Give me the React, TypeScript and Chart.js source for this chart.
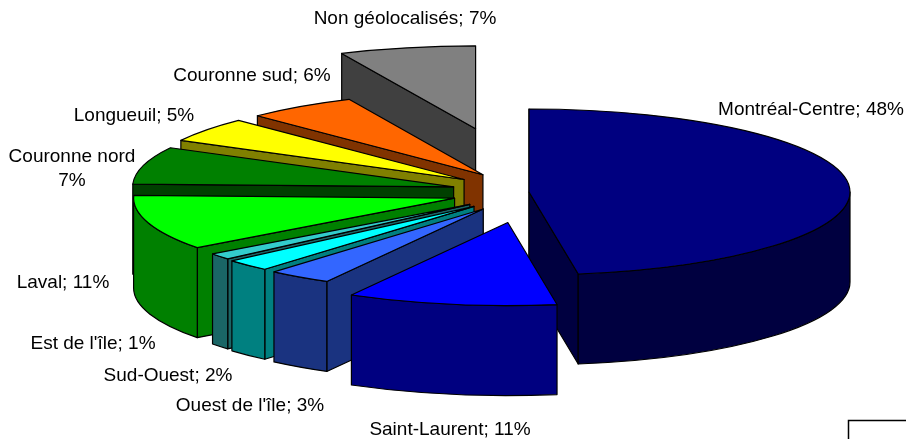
import React, { useEffect, useRef } from "react";
import { Chart, registerables } from "chart.js";

Chart.register(...registerables);

const categories = ["Montréal-Centre", "Saint-Laurent", "Ouest de l'île", "Sud-Ouest", "Est de l'île", "Laval", "Couronne nord", "Longueuil", "Couronne sud", "Non géolocalisés"];
const shares = [47.55, 10.55, 3.2, 2.3, 1.2, 10.7, 7.3, 4.8, 5.55, 6.85];
const topColors = ["#000080", "#0000FF", "#3366FF", "#00FFFF", "#33CCCC", "#00FF00", "#008000", "#FFFF00", "#FF6600", "#808080"];
const sideColors = ["#000040", "#000080", "#1A3380", "#008080", "#1A6666", "#008000", "#004000", "#808000", "#803300", "#404040"];
const sliceOffsets = [0, 120, 80, 78, 76, 78, 78, 81, 81, 250];
const paintOrder = [9, 8, 7, 6, 5, 4, 3, 2, 0, 1];
// label anchor: centre x, centre y of the first line
const labelAnchors = [[811, 110], [450, 430], [250, 406], [168, 376], [93, 344], [63, 283], [72, 157], [134, 116], [252, 76], [405, 19]];

const SQUASH = 83 / 321;
const DEPTH = 90;
const RADIUS = 321;

function labelLines(i: number): string[] {
  const pct = Math.round(shares[i]) + "%";
  if (categories[i] === "Couronne nord") return [categories[i], pct];
  return [categories[i] + "; " + pct];
}

const pie3d = {
  id: "pie3d",
  beforeDatasetDraw() {
    return false;
  },
  afterDatasetsDraw(chart: any) {
    const ctx: CanvasRenderingContext2D = chart.ctx;
    const arcs = chart.getDatasetMeta(0).data;
    ctx.save();
    ctx.lineWidth = 1.2;
    ctx.lineJoin = "round";
    ctx.strokeStyle = "#000";
    const paint = (fill: string) => {
      ctx.closePath();
      ctx.fillStyle = fill;
      ctx.fill();
      ctx.stroke();
    };
    for (const i of paintOrder) {
      const arc = arcs[i];
      const a0 = arc.startAngle;
      const a1 = arc.endAngle;
      const mid = (a0 + a1) / 2;
      const off = arc.options.offset;
      const rx = arc.outerRadius;
      const ry = rx * SQUASH;
      const cx = arc.x + Math.cos(mid) * off;
      const cy = arc.y + Math.sin(mid) * off * SQUASH;
      const radial = (a: number) => {
        const x = cx + Math.cos(a) * rx;
        const y = cy + Math.sin(a) * ry;
        ctx.beginPath();
        ctx.moveTo(cx, cy);
        ctx.lineTo(x, y);
        ctx.lineTo(x, y + DEPTH);
        ctx.lineTo(cx, cy + DEPTH);
        paint(sideColors[i]);
      };
      if (Math.cos(a0) < 1e-6) radial(a0);
      if (Math.cos(a1) > 1e-6) radial(a1);
      const s = Math.max(a0, 0);
      const e = Math.min(a1, Math.PI);
      if (e > s) {
        ctx.beginPath();
        ctx.ellipse(cx, cy, rx, ry, 0, s, e, false);
        ctx.ellipse(cx, cy + DEPTH, rx, ry, 0, e, s, true);
        paint(sideColors[i]);
      }
      ctx.beginPath();
      ctx.moveTo(cx, cy);
      ctx.ellipse(cx, cy, rx, ry, 0, a0, a1, false);
      paint(topColors[i]);
    }
    ctx.restore();
  },
  afterDraw(chart: any) {
    const ctx: CanvasRenderingContext2D = chart.ctx;
    ctx.save();
    ctx.fillStyle = "#000";
    ctx.font = '19px "Liberation Sans"';
    ctx.textAlign = "center";
    ctx.textBaseline = "middle";
    categories.forEach((_, i) => {
      const [x, y] = labelAnchors[i];
      labelLines(i).forEach((line, k) => ctx.fillText(line, x, y + k * 24));
    });
    ctx.strokeStyle = "#000";
    ctx.lineWidth = 1.5;
    ctx.strokeRect(848.5, 420.5, 100, 60);
    ctx.restore();
  },
};

export default function App() {
  const ref = useRef<HTMLCanvasElement>(null);
  useEffect(() => {
    const chart = new Chart(ref.current as HTMLCanvasElement, {
      type: "pie",
      data: {
        labels: categories,
        datasets: [{ data: shares, backgroundColor: topColors, offset: sliceOffsets, borderWidth: 0 }],
      },
      options: {
        animation: false,
        responsive: false,
        radius: RADIUS,
        layout: { padding: { left: 152, bottom: 55 } },
        plugins: { legend: { display: false }, tooltip: { enabled: false } },
      },
      plugins: [pie3d],
    } as any);
    return () => chart.destroy();
  }, []);
  return (
    <div style={{ position: "fixed", left: 0, top: 0, width: 906, height: 439, background: "#fff" }}>
      <canvas ref={ref} width={906} height={439} style={{ display: "block" }} />
    </div>
  );
}
